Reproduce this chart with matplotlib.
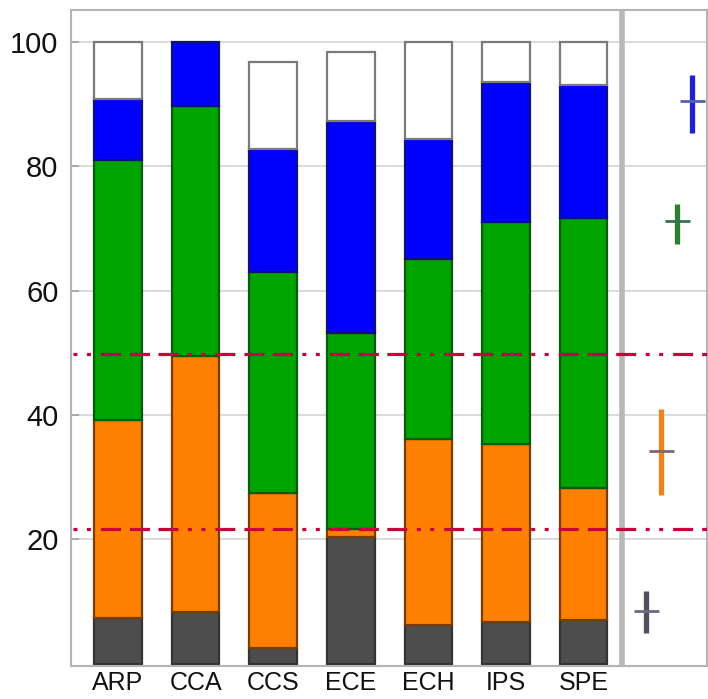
import matplotlib
matplotlib.use("Agg")
import matplotlib.pyplot as plt
import numpy as np

plt.rcParams['font.family'] = ['Liberation Sans', 'DejaVu Sans']
plt.rcParams['lines.scale_dashes'] = False

categories = ["ARP", "CCA", "CCS", "ECE", "ECH", "IPS", "SPE"]
gray_vals   = [7.3, 8.3, 2.6, 20.4, 6.3, 6.7, 7.1]
orange_vals = [31.9, 41.2, 24.9, 1.2, 29.9, 28.6, 21.2]
green_vals  = [41.8, 40.2, 35.5, 31.6, 28.8, 35.8, 43.3]
blue_vals   = [9.8, 10.3, 19.8, 34.0, 19.3, 22.5, 21.5]
white_vals  = [9.2, 0.0, 13.9, 11.2, 15.7, 6.4, 6.9]

# summary markers (x position, center, lower err, upper err)
summary_x      = [6.8, 7.0, 7.2, 7.4]
summary_center = [8.5, 34.2, 71.2, 90.5]
summary_lo     = [3.6, 7.1, 3.7, 5.1]
summary_hi     = [3.2, 6.7, 2.7, 4.2]

ref_lines = [21.65, 49.8]
yticks = [20, 40, 60, 80, 100]

seg_face = ["#4d4d4d", "#ff8000", "#00a400", "#0000ff", "#ffffff"]
seg_edge = ["#333333", "#7a3d00", "#0a5a10", "#10107a", "#7a7a7a"]
sum_color = ["#50505a", "#f08418", "#2e8030", "#2020d8"]
sum_cross = ["#6a6a80", "#806868", "#3a7050", "#5060b0"]

fig = plt.figure(figsize=(7.08, 6.99), dpi=100)
ax = fig.add_axes([71/708, 33.3/699, 636/708, 655.7/699])

x = np.arange(len(categories))
ax.set_xlim(-0.606, 7.59)
ax.set_ylim(-0.3, 105.1)

for yv in yticks:
    ax.axhline(yv, color="#d4d4d4", lw=1.2, zorder=0)

bottom = np.zeros(len(categories))
for vals, fc, ec in zip([gray_vals, orange_vals, green_vals, blue_vals, white_vals], seg_face, seg_edge):
    v = np.array(vals)
    mask = v > 0
    ax.bar(x[mask], v[mask], width=0.615, bottom=bottom[mask], color=fc,
           edgecolor=ec, linewidth=1.6, zorder=2)
    bottom = bottom + v

ax.axvline(6.5, color="#b8b8b8", lw=4.0, zorder=1)

dash = (61.2, (14.4, 6.5, 14.4, 6.1, 14.4, 6.8, 2.9, 6.8, 2.9, 7.2))
for yv in ref_lines:
    ax.axhline(yv, color="#c8003c", lw=2.3, ls=dash, zorder=4)

for xs, c, lo, hi, col, cc in zip(summary_x, summary_center, summary_lo, summary_hi, sum_color, sum_cross):
    ax.plot([xs, xs], [c - lo, c + hi], color=col, lw=3.8, solid_capstyle='butt', zorder=3)
    ax.plot([xs], [c], marker='_', ms=18, mew=2.0, color=cc, zorder=4)

ax.set_xticks(x)
ax.set_xticklabels(categories, fontsize=18, color="#111111")
ax.tick_params(axis='x', length=0, pad=4)
ax.set_yticks(yticks)
ax.set_yticklabels([str(t) for t in yticks], fontsize=21, color="#111111")
ax.tick_params(axis='y', direction='in', length=6, width=1.2, color="#a0a0a0", pad=9)

for s in ax.spines.values():
    s.set_color("#b4b4b4")
    s.set_linewidth(1.5)

fig.savefig("out.png", dpi=100)
